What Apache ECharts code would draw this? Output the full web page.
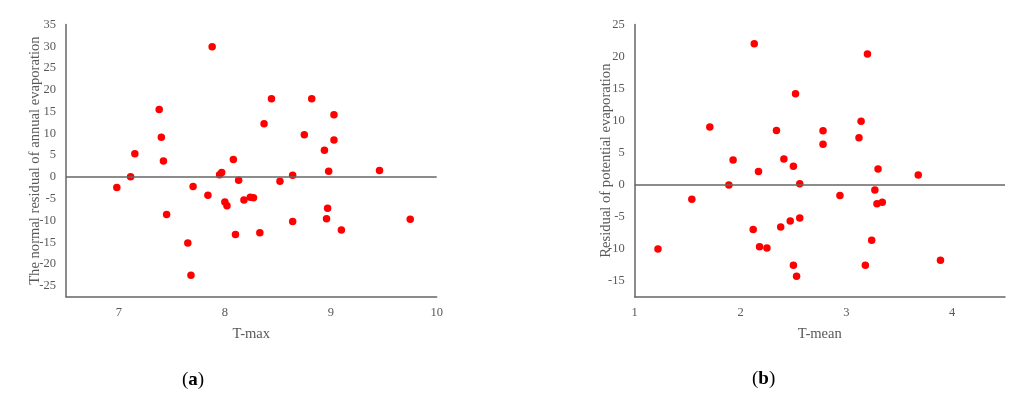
<!DOCTYPE html>
<html>
<head>
<meta charset="utf-8">
<script src="https://cdn.jsdelivr.net/npm/echarts@6/dist/echarts.min.js"></script>
<style>html,body{margin:0;padding:0;background:#fff;}#c{width:1030px;height:403px;}</style>
</head>
<body>
<div id="c"></div>
<script>
// Panel (a): T-max vs normal residual of annual evaporation
const tMax = [6.98,7.11,7.15,7.38,7.40,7.42,7.45,7.65,7.68,7.70,7.84,7.88,7.95,7.97,8.00,8.02,8.08,8.10,8.13,8.18,8.24,8.27,8.33,8.37,8.44,8.52,8.64,8.64,8.75,8.82,8.94,8.96,8.97,8.98,9.03,9.03,9.10,9.46,9.75];
const residualA = [-2.45,0.07,5.35,15.5,9.1,3.67,-8.65,-15.15,-22.6,-2.2,-4.2,29.9,0.5,1.0,-5.74,-6.6,3.98,-13.2,-0.77,-5.3,-4.67,-4.8,-12.8,12.2,17.97,-1.0,0.39,-10.25,9.7,17.97,6.1,-9.6,-7.2,1.3,14.3,8.5,-12.2,1.45,-9.7];
// Panel (b): T-mean vs residual of potential evaporation
const tMean = [1.22,1.54,1.71,1.89,1.93,2.12,2.13,2.17,2.18,2.25,2.34,2.38,2.41,2.47,2.50,2.50,2.52,2.53,2.56,2.56,2.78,2.78,2.94,3.12,3.14,3.18,3.20,3.24,3.27,3.29,3.30,3.34,3.68,3.89];
const residualB = [-10.07,-2.3,9.0,-0.05,3.85,-7.0,22.0,2.03,-9.7,-9.9,8.45,-6.6,4.0,-5.7,2.86,-12.6,14.2,-14.3,0.15,-5.2,8.4,6.3,-1.7,7.3,9.9,-12.6,20.4,-8.7,-0.84,-2.97,2.45,-2.77,1.5,-11.8];

const xTitleA = 'T-max', yTitleA = 'The normal residual of annual evaporation';
const xTitleB = 'T-mean', yTitleB = 'Residual of potential evaporation';

const FONT = 'Liberation Serif';
const TXT = '#595959';
const AX = '#666666';

function isMult(v, m) {
  const r = Math.round(v);
  return Math.abs(v - r) < 1e-6 && r % m === 0;
}
function xAxisCfg(idx, min, max, name) {
  return {
    type: 'value', gridIndex: idx, min: min, max: max, interval: 0.5,
    name: name, nameLocation: 'middle', nameGap: 30, nameMoveOverlap: false,
    nameTextStyle: {fontFamily: FONT, fontSize: 14.6, color: TXT},
    axisLine: {show: true, onZero: false, lineStyle: {color: AX, width: 1.5}},
    axisTick: {show: false}, splitLine: {show: false},
    axisLabel: {fontFamily: FONT, fontSize: 12.5, color: TXT, margin: 10,
      showMinLabel: true, showMaxLabel: true,
      formatter: v => isMult(v, 1) ? String(Math.round(v)) : ''}
  };
}
function yAxisCfg(idx, min, max, name, gap) {
  return {
    type: 'value', gridIndex: idx, min: min, max: max, interval: 2.5,
    name: name, nameLocation: 'middle', nameGap: gap, nameMoveOverlap: false,
    nameTextStyle: {fontFamily: FONT, fontSize: 14.6, color: TXT},
    axisLine: {show: true, lineStyle: {color: AX, width: 1.5}},
    axisTick: {show: false}, splitLine: {show: false},
    axisLabel: {fontFamily: FONT, fontSize: 12.5, color: TXT, margin: 10,
      formatter: v => isMult(v, 5) ? String(Math.round(v)) : ''}
  };
}
function scatter(idx, xs, ys) {
  return {
    type: 'scatter', xAxisIndex: idx, yAxisIndex: idx,
    data: xs.map((x, i) => [x, ys[i]]),
    symbolSize: 7.5, itemStyle: {color: '#ff0000', opacity: 1},
    markLine: {silent: true, symbol: ['none', 'none'], label: {show: false},
      animation: false,
      lineStyle: {color: AX, width: 1.5, type: 'solid'},
      data: [{yAxis: 0}]}
  };
}

const chart = echarts.init(document.getElementById('c'));
chart.setOption({
  animation: false,
  backgroundColor: '#fff',
  grid: [
    {left: 66, top: 24.5, width: 370.7, height: 272.2},
    {left: 634.7, top: 24.5, width: 370.3, height: 272.2}
  ],
  xAxis: [xAxisCfg(0, 6.5, 10, xTitleA), xAxisCfg(1, 1, 4.5, xTitleB)],
  yAxis: [yAxisCfg(0, -27.5, 35, yTitleA, 23), yAxisCfg(1, -17.5, 25, yTitleB, 21)],
  series: [scatter(0, tMax, residualA), scatter(1, tMean, residualB)],
  graphic: [
    {type: 'text', left: 182, top: 371, style: {
      text: '({b|a})', fontFamily: FONT, fontSize: 19, fill: '#000',
      rich: {b: {fontFamily: FONT, fontSize: 19, fontWeight: 'bold', fill: '#000'}}}},
    {type: 'text', left: 752, top: 370, style: {
      text: '({b|b})', fontFamily: FONT, fontSize: 19, fill: '#000',
      rich: {b: {fontFamily: FONT, fontSize: 19, fontWeight: 'bold', fill: '#000'}}}}
  ]
});
</script>
</body>
</html>
